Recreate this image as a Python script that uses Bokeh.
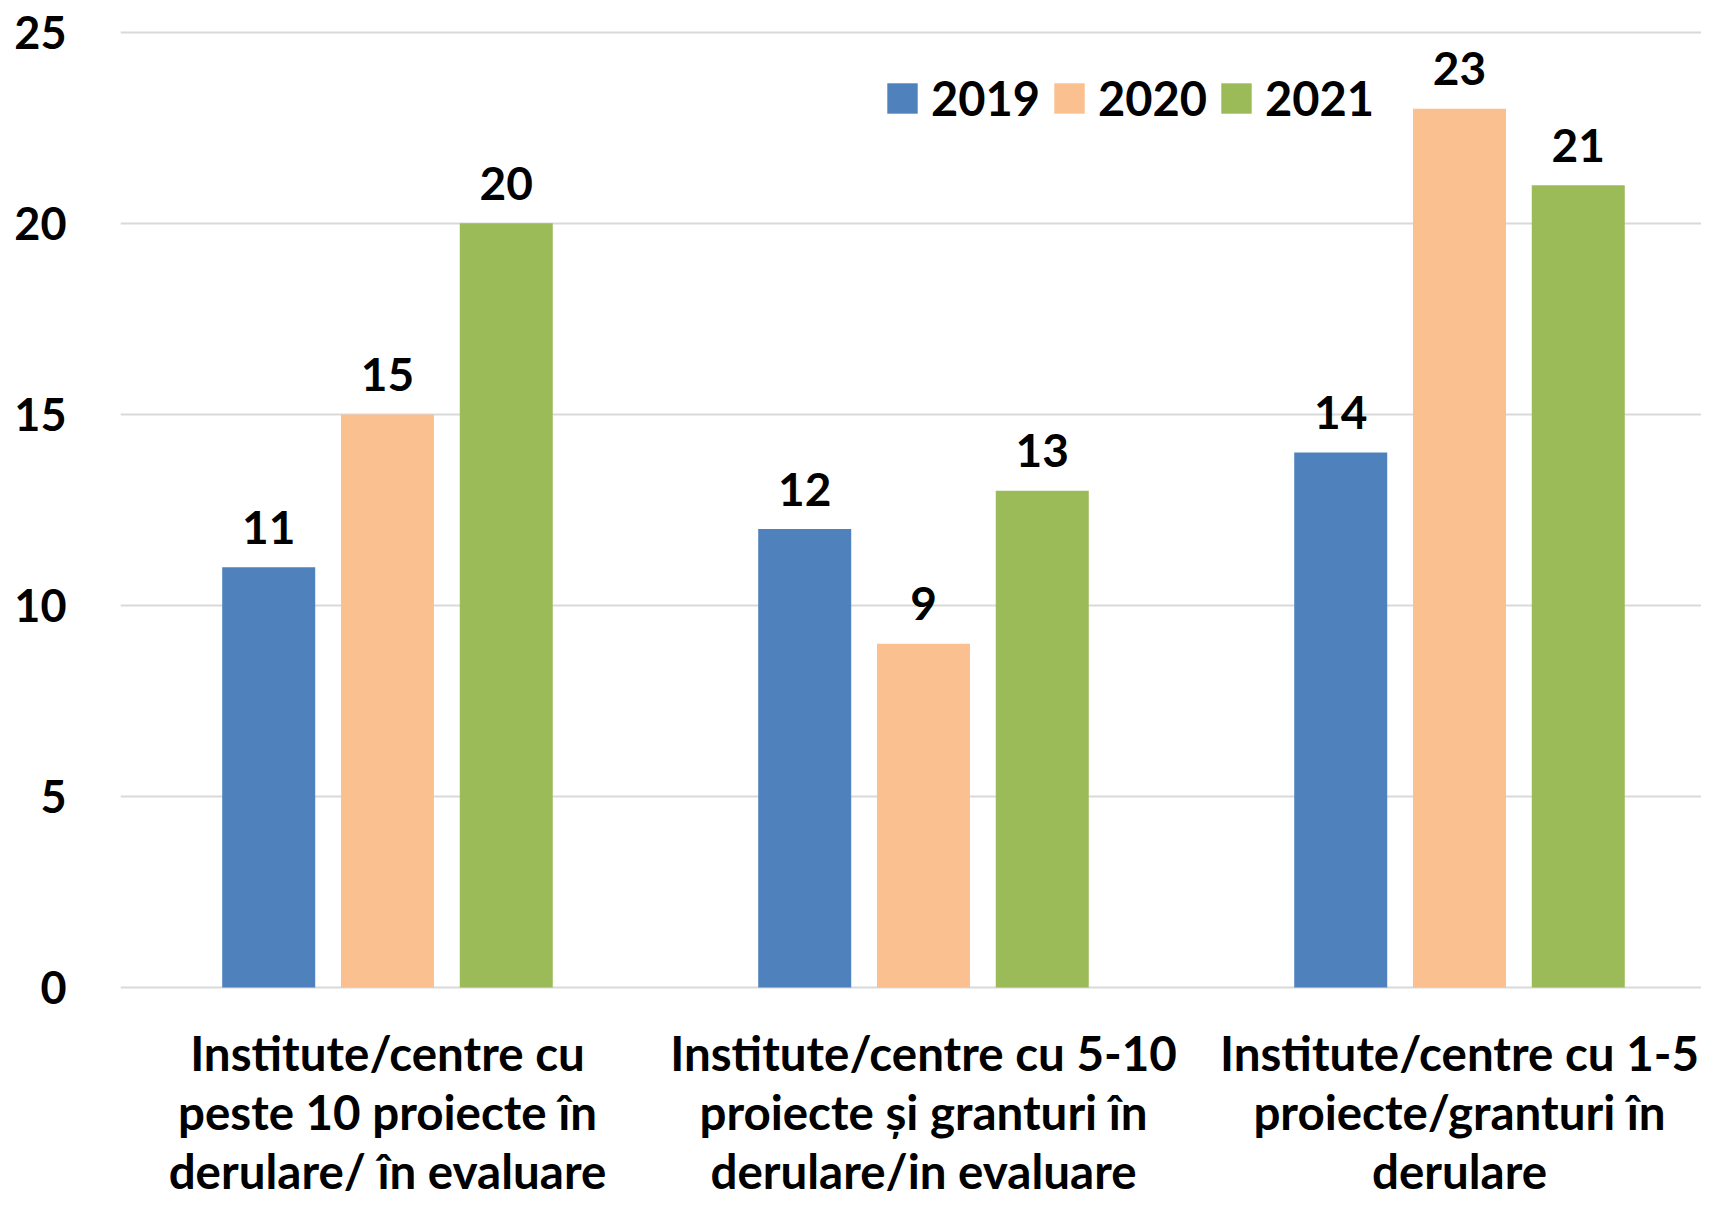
from bokeh.plotting import figure
from bokeh.models import Range1d, FixedTicker, Legend, LegendItem
from bokeh.core.properties import value
from bokeh.embed import file_html
from bokeh.resources import INLINE

categories = [
    "Institute/centre cu\npeste 10 proiecte în\nderulare/ în evaluare",
    "Institute/centre cu 5-10\nproiecte și granturi în\nderulare/in evaluare",
    "Institute/centre cu 1-5\nproiecte/granturi în\nderulare",
]
years = ["2019", "2020", "2021"]
v2019 = [11, 12, 14]
v2020 = [15, 9, 23]
v2021 = [20, 13, 21]
y_ticks = [0, 5, 10, 15, 20, 25]

series = [v2019, v2020, v2021]
colors = ["#4F81BD", "#FAC090", "#9BBB59"]
offsets = [-0.2216, 0.0, 0.2216]
bar_w = 0.1735
FONT = "Lato"

W, H = 1701, 1200
p = figure(width=W, height=H, output_backend="svg", toolbar_location=None,
           x_range=Range1d(-0.4981, 2.4515), y_range=Range1d(-5.574, 25.832),
           x_axis_location=None, y_axis_location="left",
           min_border_left=120, min_border_right=0, min_border_top=0, min_border_bottom=0)
p.outline_line_color = None
p.background_fill_color = "white"
p.border_fill_color = "white"

p.xgrid.visible = False
p.ygrid.ticker = FixedTicker(ticks=y_ticks)
p.ygrid.grid_line_color = "#D9D9D9"
p.ygrid.grid_line_width = 2

ax = p.yaxis[0]
ax.ticker = FixedTicker(ticks=y_ticks)
ax.axis_line_color = None
ax.major_tick_line_color = None
ax.minor_tick_line_color = None
ax.major_tick_out = 0
ax.major_tick_in = 0
ax.major_label_standoff = 54
ax.major_label_text_font = FONT
ax.major_label_text_font_style = "bold"
ax.major_label_text_font_size = "45px"
ax.major_label_text_color = "black"

idx = list(range(len(categories)))
renderers = []
for vals, col, off in zip(series, colors, offsets):
    xs = [i + off for i in idx]
    r = p.vbar(x=xs, top=vals, bottom=0, width=bar_w, fill_color=col, line_color=None)
    renderers.append(r)
    p.text(x=xs, y=vals, text=[str(v) for v in vals], text_align="center",
           text_baseline="alphabetic", y_offset=-40,
           text_font=value(FONT), text_font_style="bold", text_font_size="46px",
           text_color="black")

for i, cat in enumerate(categories):
    for j, line in enumerate(cat.split("\n")):
        p.text(x=[i], y=[0], text=[line], text_align="center", text_baseline="alphabetic",
               y_offset=65 + j * 59,
               text_font=value(FONT), text_font_style="bold", text_font_size="47.5px",
               text_color="black")

legend = Legend(items=[LegendItem(label=y, renderers=[r]) for y, r in zip(years, renderers)],
                orientation="horizontal", location=(763, 1074),
                glyph_width=38, glyph_height=38, label_standoff=10, spacing=10,
                padding=0, margin=0, border_line_color=None, background_fill_alpha=0,
                label_text_font=FONT, label_text_font_style="bold", label_text_font_size="47px",
                label_text_color="black")
p.add_layout(legend)

open("out.html", "w").write(file_html(p, INLINE))
